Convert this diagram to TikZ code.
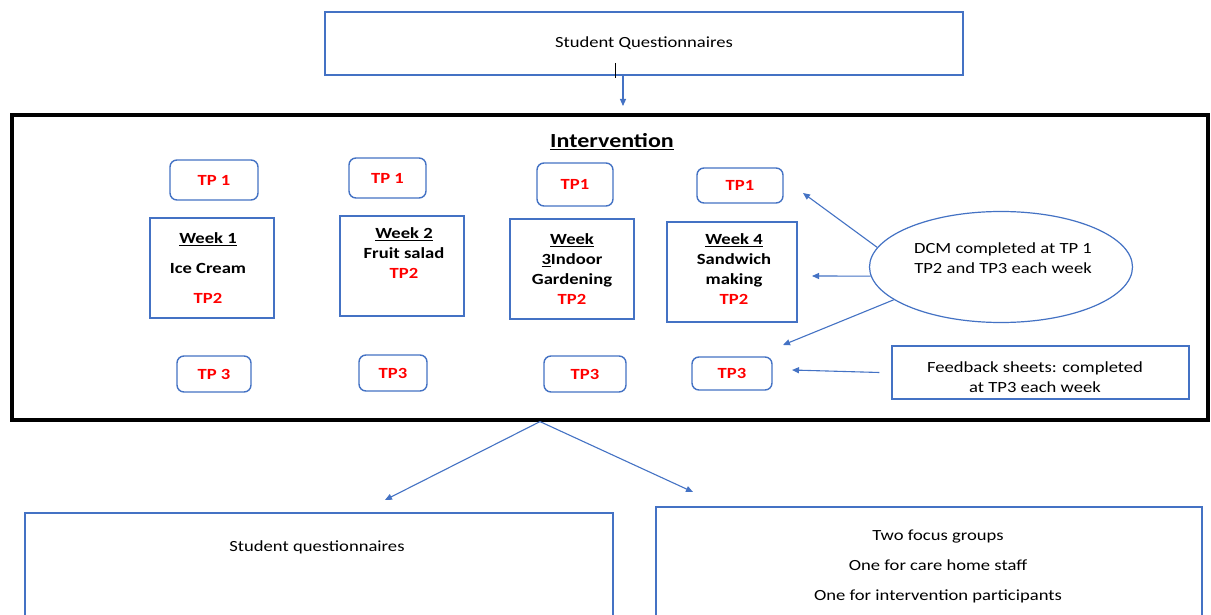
\documentclass[tikz,border=0pt]{standalone}
\usepackage{fontspec}
\setmainfont{Carlito}[FakeStretch=1.2]
\usetikzlibrary{arrows.meta,shapes.geometric}
\definecolor{bl}{HTML}{4472C4}
\begin{document}
\begin{tikzpicture}[x=1pt,y=-1pt,
  font=\fontsize{15.5}{19}\selectfont,
  box/.style={draw=bl, line width=1.2pt, inner sep=0pt},
  tpbox/.style={draw=bl, line width=1.4pt, rounded corners=7pt, inner sep=0pt,
     text=red, font=\fontsize{15.5}{19}\selectfont\bfseries},
  wtext/.style={align=center, font=\fontsize{15.5}{19}\selectfont\bfseries},
  arr/.style={draw=bl, line width=1.1pt, -{Triangle[length=7pt,width=6pt]}},
]
\clip (0,0) rectangle (1211,615);
\fill[white] (0,0) rectangle (1211,615);

% top box
\node[box, minimum width=638, minimum height=63] (top) at (644,43.5) {Student Questionnaires};
\coordinate (tickA) at (615,63);
\coordinate (tickB) at (615,78);
\draw[black, line width=1pt] (tickA) -- (tickB);

% intervention box
\node[draw=black, line width=3.2pt, minimum width=1196, minimum height=305, inner sep=0pt] (iv) at (610,267.5) {};
\node[font=\fontsize{20}{24}\selectfont\bfseries] (ivt) at (612,142) {\underline{Intervention}};
\coordinate (topin) at (623,106);
\draw[arr] ([xshift=-21]top.south) -- (topin);

% TP1 boxes
\node[tpbox, minimum width=88, minimum height=40] (a1) at (214,180) {TP 1};
\node[tpbox, minimum width=77, minimum height=40] (b1) at (387.5,178) {TP 1};
\node[tpbox, minimum width=76, minimum height=43] (c1) at (575,184.5) {TP1};
\node[tpbox, minimum width=86, minimum height=35] (d1) at (740,185.5) {TP1};

% week boxes
\node[box, minimum width=124, minimum height=100] (w1) at (212,268) {};
\node[box, minimum width=124, minimum height=100] (w2) at (402,266) {};
\node[box, minimum width=124, minimum height=100] (w3) at (572,269) {};
\node[box, minimum width=130, minimum height=100] (w4) at (732,272) {};
\node[wtext] (w1t) at (208,268) {\underline{Week 1}\\[11pt]Ice Cream\\[11pt]\textcolor{red}{TP2}};
\node[wtext] (w2t) at (404,253) {\underline{Week 2}\\[1pt]Fruit salad\\[1pt]\textcolor{red}{TP2}};
\node[wtext] (w3t) at (572,269.5) {\underline{Week}\\[1pt]\underline{3}Indoor\\[1pt]Gardening\\[1pt]\textcolor{red}{TP2}};
\node[wtext] (w4t) at (734,269.5) {\underline{Week 4}\\[1pt]Sandwich\\[1pt]making\\[1pt]\textcolor{red}{TP2}};

% TP3 boxes
\node[tpbox, minimum width=74, minimum height=36] (a3) at (214,374) {TP 3};
\node[tpbox, minimum width=68, minimum height=36] (b3) at (393,373) {TP3};
\node[tpbox, minimum width=82, minimum height=36] (c3) at (585,374) {TP3};
\node[tpbox, minimum width=80, minimum height=33] (d3) at (732,373.5) {TP3};

% DCM ellipse
\node[draw=bl, line width=1.2pt, ellipse, minimum width=263, minimum height=111, inner sep=0pt] (dcm) at (1001,267) {};
\node[align=center] (dcmt) at (1003,258) {DCM completed at TP 1\\[1pt]TP2 and TP3 each week};

% feedback box
\node[box, minimum width=297, minimum height=53] (fb) at (1040.5,372.5) {};
\node[align=center] (fbt) at (1035,377) {Feedback sheets: completed\\[1pt]at TP3 each week};

% arrows from DCM and feedback
\coordinate (e1) at (803,193);
\coordinate (e2) at (812,276);
\coordinate (e3) at (783,345);
\coordinate (e4) at (792,370);
\draw[arr] (dcm.171) -- (e1);
\draw[arr] (dcm.184) -- (e2);
\draw[arr] (dcm.197) -- (e3);
\draw[arr] ([xshift=-12]fb.west) -- (e4);

% bottom boxes
\node[box, minimum width=588, minimum height=117] (lq) at (319,571.5) {};
\node (lqt) at (317,547) {Student questionnaires};
\node[box, minimum width=546, minimum height=123] (fg) at (929,568.5) {};
\node[align=center] (fgt) at (938,566) {Two focus groups\\[11pt]One for care home staff\\[11pt]One for intervention participants};

\coordinate (e5) at (385,500);
\coordinate (e6) at (693,492);
\draw[arr] ([xshift=-70]iv.south) -- (e5);
\draw[arr] ([xshift=-70]iv.south) -- (e6);
\end{tikzpicture}
\end{document}
